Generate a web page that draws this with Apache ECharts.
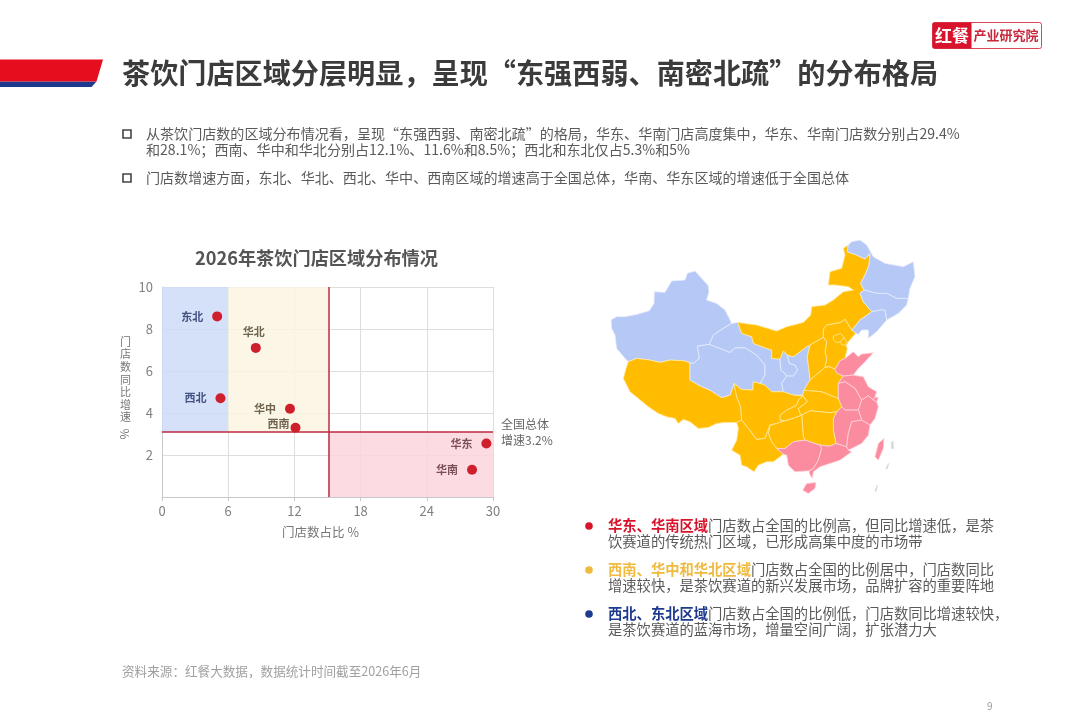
<!DOCTYPE html>
<html><head><meta charset="utf-8">
<script src="https://cdn.jsdelivr.net/npm/echarts@6/dist/echarts.min.js"></script>
<style>html,body{margin:0;padding:0;background:#fff}#c{width:1080px;height:719px}</style>
</head><body><div id="c"></div>
<script>
// ---- chart data ----
const regions = ['东北','华北','西北','华中','西南','华东','华南'];
const storeShare = [5, 8.5, 5.3, 11.6, 12.1, 29.4, 28.1];
const storeGrowth = [8.6, 7.1, 4.7, 4.2, 3.3, 2.55, 1.3];
const shareSplitLow = 6, shareSplitHigh = 15.1, growthSplit = 3.1;
const xMax = 30, yMax = 10;
const eastSouthProvinces = ['山东','江苏','上海','浙江','安徽','江西','福建','广东','广西','海南','台湾'];
const midProvinces = ['西藏','四川','云南','贵州','重庆','湖南','湖北','河南','河北','山西','内蒙古','北京','天津'];
const westNorthProvinces = ['新疆','青海','甘肃','宁夏','陕西','黑龙江','吉林','辽宁'];
const islandMarks = ['岛礁1','岛礁2','岛礁3'];

// ---- texts ----
const pageTitle = '茶饮门店区域分层明显，呈现“东强西弱、南密北疏”的分布格局';
const bodyLines = [
 '从茶饮门店数的区域分布情况看，呈现“东强西弱、南密北疏”的格局，华东、华南门店高度集中，华东、华南门店数分别占29.4%',
 '和28.1%；西南、华中和华北分别占12.1%、11.6%和8.5%；西北和东北仅占5.3%和5%',
 '门店数增速方面，东北、华北、西北、华中、西南区域的增速高于全国总体，华南、华东区域的增速低于全国总体'
];
const notes = [
 ['华东、华南区域','门店数占全国的比例高，但同比增速低，是茶','饮赛道的传统热门区域，已形成高集中度的市场带'],
 ['西南、华中和华北区域','门店数占全国的比例居中，门店数同比','增速较快，是茶饮赛道的新兴发展市场，品牌扩容的重要阵地'],
 ['西北、东北区域','门店数占全国的比例低，门店数同比增速较快，','是茶饮赛道的蓝海市场，增量空间广阔，扩张潜力大']
];

// ---- base-map outlines (schematic province shapes) ----
const outlines = {
 '新疆':[[33,270],[50,260],[75,260],[110,253],[148,242],[162,220],[163,185],[195,187],[215,153],[255,150],[262,130],[285,123],[305,145],[325,167],[327,185],[320,210],[350,220],[375,240],[388,265],[395,280],[370,295],[340,315],[328,343],[292,348],[298,385],[280,400],[270,398],[250,392],[210,390],[180,397],[150,390],[110,385],[85,395],[75,385],[50,355],[45,315],[35,295]],
 '西藏':[[85,395],[110,385],[150,390],[180,397],[210,390],[250,392],[270,398],[270,450],[300,467],[330,480],[365,502],[390,495],[402,460],[410,500],[422,530],[425,570],[410,577],[375,577],[350,580],[325,592],[295,595],[270,575],[250,568],[235,580],[225,565],[200,560],[175,550],[145,530],[115,505],[90,485],[70,445],[78,415]],
 '青海':[[328,343],[360,355],[390,367],[405,353],[435,353],[470,375],[495,405],[495,435],[480,460],[460,455],[458,480],[425,478],[402,460],[390,495],[365,502],[330,480],[300,467],[270,450],[270,398],[280,400],[298,385],[292,348]],
 '甘肃':[[395,280],[413,277],[425,310],[455,320],[460,340],[500,355],[515,360],[515,385],[540,387],[542,420],[555,430],[560,438],[545,460],[550,485],[515,485],[495,465],[480,460],[495,435],[495,405],[470,375],[435,353],[405,353],[390,367],[360,355],[328,343],[340,315],[370,295]],
 '宁夏':[[540,387],[550,362],[562,375],[568,400],[585,405],[593,420],[580,438],[560,438],[555,430],[542,420]],
 '陕西':[[562,375],[580,380],[620,350],[630,345],[622,380],[628,430],[630,450],[612,480],[608,495],[580,495],[550,485],[545,460],[560,438],[580,438],[593,420],[585,405],[568,400]],
 '内蒙古':[[413,277],[470,285],[530,303],[560,290],[610,277],[632,255],[635,230],[675,225],[700,210],[730,185],[760,180],[745,170],[705,165],[685,165],[690,125],[725,115],[735,75],[730,55],[745,45],[742,65],[770,75],[795,87],[810,70],[807,105],[795,135],[782,160],[792,180],[780,190],[790,215],[815,245],[795,260],[780,270],[760,295],[755,300],[735,268],[720,278],[680,285],[670,298],[670,322],[630,345],[620,350],[580,380],[562,375],[550,362],[540,387],[515,385],[515,360],[500,355],[460,340],[455,320],[425,310]],
 '黑龙江':[[745,45],[755,35],[780,30],[800,45],[820,80],[855,100],[910,110],[940,95],[945,140],[930,175],[925,205],[890,205],[860,190],[830,190],[792,180],[782,160],[795,135],[807,105],[810,70],[795,87],[770,75],[742,65]],
 '吉林':[[792,180],[830,190],[860,190],[890,205],[925,205],[920,225],[895,250],[860,270],[855,240],[840,240],[815,245],[790,215],[780,190]],
 '辽宁':[[815,245],[840,240],[855,240],[860,270],[830,305],[805,325],[805,300],[785,300],[775,313],[760,305],[755,300],[760,295],[780,270],[795,260]],
 '河北':[[670,322],[670,298],[680,285],[720,278],[735,268],[755,300],[767,310],[745,335],[738,348],[742,355],[735,385],[720,392],[705,418],[690,410],[675,412],[680,385],[675,365],[680,335]],
 '北京':[[700,318],[722,310],[732,322],[722,335],[710,338],[700,330]],
 '天津':[[722,335],[732,322],[740,335],[735,345],[725,345]],
 '山西':[[630,345],[670,322],[680,335],[675,365],[680,385],[675,412],[630,450],[628,430],[622,380]],
 '河南':[[630,450],[675,412],[690,410],[705,418],[712,430],[730,438],[715,460],[715,505],[690,495],[665,485],[630,482],[612,480]],
 '山东':[[705,418],[720,392],[735,385],[760,365],[775,380],[785,372],[820,368],[795,395],[775,415],[760,435],[730,438],[712,430]],
 '江苏':[[730,438],[760,435],[790,440],[805,470],[830,485],[825,500],[820,510],[805,497],[785,510],[765,475],[735,455],[715,460]],
 '上海':[[825,500],[835,503],[830,515],[820,510]],
 '安徽':[[715,460],[735,455],[765,475],[785,510],[775,540],[735,540],[725,530],[715,505]],
 '浙江':[[785,510],[805,497],[820,510],[830,515],[835,530],[825,565],[810,585],[785,570],[775,540]],
 '江西':[[710,545],[725,530],[735,540],[775,540],[785,570],[755,575],[745,610],[740,650],[708,640],[700,600],[700,565]],
 '福建':[[755,575],[785,570],[810,585],[805,615],[785,640],[745,660],[740,650],[745,610]],
 '湖北':[[608,495],[612,480],[630,482],[665,485],[690,495],[715,505],[725,530],[710,545],[690,548],[660,545],[630,542],[605,555],[600,550],[595,535],[622,515]],
 '湖南':[[605,555],[630,542],[660,545],[690,548],[710,545],[700,565],[700,600],[708,640],[690,648],[660,645],[615,630],[610,620]],
 '重庆':[[608,497],[622,515],[595,535],[600,550],[605,555],[580,565],[555,572],[540,570],[540,555],[560,540],[590,525],[595,510]],
 '四川':[[402,460],[425,478],[458,480],[460,455],[480,460],[495,465],[515,485],[550,485],[580,495],[608,497],[595,510],[590,525],[560,540],[540,555],[540,570],[555,572],[530,580],[510,585],[495,625],[470,628],[445,595],[425,570],[422,530],[410,500]],
 '贵州':[[505,610],[510,585],[530,580],[555,572],[580,565],[605,555],[610,620],[615,630],[580,635],[555,655],[530,655],[515,635]],
 '云南':[[410,577],[425,570],[445,595],[470,628],[495,625],[510,585],[505,610],[515,635],[530,655],[550,672],[520,695],[500,695],[475,705],[462,725],[440,710],[425,705],[420,675],[395,660],[410,630],[415,595]],
 '广西':[[530,655],[555,655],[580,635],[615,630],[660,645],[665,655],[655,690],[640,715],[628,722],[585,725],[565,705],[560,675],[550,672]],
 '广东':[[660,645],[690,648],[708,640],[740,650],[745,660],[755,665],[720,690],[660,710],[640,725],[637,745],[628,730],[628,722],[640,715],[655,690],[665,655]],
 '海南':[[608,780],[620,760],[648,757],[645,775],[625,790]],
 '台湾':[[825,680],[835,640],[852,625],[850,655],[835,690]],
 '岛礁1':[[875,635],[879,635],[880,655],[875,655]],
 '岛礁2':[[858,715],[866,700],[869,702],[861,717]],
 '岛礁3':[[825,782],[832,765],[835,767],[828,784]]
};
const geoJson = {type:'FeatureCollection',features:Object.keys(outlines).map(n=>({
  type:'Feature',properties:{name:n},
  geometry:{type:'Polygon',coordinates:[outlines[n].concat([outlines[n][0]])]}
}))};
echarts.registerMap('cn', geoJson);

const FONT = '"Noto Sans CJK SC","Noto Sans",sans-serif';
const mapColors = {pink:'#FB8CA0',gold:'#FFBC00',blue:'#B5C8F6',isle:'#D6D6D6'};
const mapData = [].concat(
  eastSouthProvinces.map(n=>({name:n,itemStyle:{areaColor:mapColors.pink,borderColor:'#FFD4DC'}})),
  midProvinces.map(n=>({name:n,itemStyle:{areaColor:mapColors.gold,borderColor:'#FFE9A0'}})),
  westNorthProvinces.map(n=>({name:n,itemStyle:{areaColor:mapColors.blue,borderColor:'#E6ECFC'}})),
  islandMarks.map(n=>({name:n,itemStyle:{areaColor:mapColors.isle,borderColor:mapColors.isle}}))
);

// label placement per region (layout, kept apart from the values)
const labelLayout = {
 '东北':{position:'left',distance:9,color:'#44527F'},
 '华北':{position:'top',distance:6,offset:[-2,0],color:'#6E6450'},
 '西北':{position:'left',distance:9,color:'#44527F'},
 '华中':{position:'left',distance:9,color:'#6E6450'},
 '西南':{position:'left',distance:1,offset:[0,-4],color:'#6E6450'},
 '华东':{position:'left',distance:9,color:'#7A5056'},
 '华南':{position:'left',distance:9,color:'#7A5056'}
};
const points = regions.map((r,i)=>({
  name:r, value:[storeShare[i],storeGrowth[i]],
  label:Object.assign({show:true,formatter:r,fontSize:11,fontWeight:'bold',fontFamily:FONT},labelLayout[r])
}));

const textNode = (text,x,y,o)=>({type:'text',silent:true,z:20,style:Object.assign({text,x,y,fontFamily:FONT,verticalAlign:'middle'},o)});
const graphics = [
  {type:'polygon',silent:true,shape:{points:[[0,81.5],[96.5,81.5],[91.5,87],[0,87]]},style:{fill:'#1E3A8F'}},
  {type:'polygon',silent:true,shape:{points:[[0,59.5],[103,59.5],[96.5,81.5],[0,81.5]]},style:{fill:'#E60D1F'}},
  textNode(pageTitle,122,73,{fontSize:28.15,fontWeight:'bold',fill:'#3B3B3B'}),
  {type:'rect',silent:true,shape:{x:932.5,y:22.5,width:109,height:26,r:2},style:{fill:'#fff',stroke:'#D9455A',lineWidth:1}},
  {type:'rect',silent:true,shape:{x:932.5,y:22.5,width:39,height:26,r:[2,0,0,2]},style:{fill:'#D8132C'}},
  textNode('红餐',952,35.5,{fontSize:17,fontWeight:'bold',fill:'#fff',align:'center'}),
  textNode('产业研究院',1006,35.5,{fontSize:13,fontWeight:'bold',fill:'#C8283C',align:'center'}),
  {type:'rect',silent:true,shape:{x:123,y:130,width:8,height:8},style:{fill:'#fff',stroke:'#444',lineWidth:1.6}},
  {type:'rect',silent:true,shape:{x:123,y:174,width:8,height:8},style:{fill:'#fff',stroke:'#444',lineWidth:1.6}},
  textNode(bodyLines[0],146,134,{fontSize:14.07,fill:'#5A5A5A'}),
  textNode(bodyLines[1],146,150,{fontSize:14.07,fill:'#5A5A5A'}),
  textNode(bodyLines[2],146,178,{fontSize:14.07,fill:'#5A5A5A'}),
  textNode('2026年茶饮门店区域分布情况',316.5,258,{fontSize:18.2,fontWeight:'bold',fill:'#555',align:'center'}),
  textNode('全国总体',501,424,{fontSize:12,fill:'#666'}),
  textNode('增速3.2%',501,440,{fontSize:12,fill:'#666'}),
  {type:'text',silent:true,z:20,x:125,y:434,rotation:-Math.PI/2,style:{text:'%',fontSize:12,fontFamily:FONT,fill:'#777',align:'center',verticalAlign:'middle'}},
  textNode('资料来源：红餐大数据，数据统计时间截至2026年6月',122,671,{fontSize:12.6,fill:'#A0A0A0'}),
  textNode('9',987,706,{fontSize:10,fill:'#999'})
];
const noteColors = ['#D7142B','#EFBA3E','#1E3A8F'];
const noteRows = [526,570,614];
notes.forEach((n,i)=>{
  graphics.push({type:'circle',silent:true,shape:{cx:589,cy:noteRows[i],r:3.8},style:{fill:noteColors[i]}});
  graphics.push(textNode('{h|'+n[0]+'}{t|'+n[1]+'}',608,noteRows[i],{rich:{
     h:{fontSize:14.3,fontWeight:'bold',fill:noteColors[i],fontFamily:FONT},
     t:{fontSize:14.3,fill:'#5A5A5A',fontFamily:FONT}}}));
  graphics.push(textNode(n[2],608,noteRows[i]+16,{fontSize:14.3,fill:'#5A5A5A'}));
});

const chart = echarts.init(document.getElementById('c'),null,{renderer:'canvas'});
chart.setOption({
  animation:false,
  backgroundColor:'#fff',
  textStyle:{fontFamily:FONT},
  grid:{left:162,right:587,top:287,bottom:222,containLabel:false},
  xAxis:{type:'value',min:0,max:xMax,interval:6,name:'门店数占比 %',nameLocation:'middle',nameGap:29,
    nameTextStyle:{fontSize:12.5,color:'#777',padding:[0,14,0,0]},
    axisLine:{show:true,lineStyle:{color:'#C8C8C8'}},axisTick:{show:true,length:4,lineStyle:{color:'#C8C8C8'}},
    axisLabel:{fontSize:13,color:'#808080',margin:8},splitLine:{show:true,lineStyle:{color:'#DEDEDE'}}},
  yAxis:{type:'value',min:0,max:yMax,interval:2,name:'门\n店\n数\n同\n比\n增\n速\n \n ',nameLocation:'middle',nameGap:31,nameRotate:0,
    nameTextStyle:{fontSize:11,color:'#777',lineHeight:12.6},
    axisLine:{show:true,lineStyle:{color:'#C8C8C8'}},axisTick:{show:false},
    axisLabel:{fontSize:13,color:'#808080',margin:9,formatter:v=>v===0?'':String(v)},splitLine:{show:true,lineStyle:{color:'#DEDEDE'}}},
  graphic:graphics,
  series:[
    {type:'map',map:'cn',
      projection:{project:p=>p,unproject:p=>p},
      left:611,top:240,width:304,height:253.5,aspectScale:1,
      silent:true,selectedMode:false,label:{show:false},
      itemStyle:{borderWidth:0.8,areaColor:'#ddd'},
      data:mapData},
    {type:'scatter',symbolSize:10,itemStyle:{color:'#D01F2C',opacity:1},z:5,silent:true,
      data:points,
      markArea:{silent:true,itemStyle:{opacity:0.85},z:1,data:[
        [{xAxis:0,yAxis:growthSplit,itemStyle:{color:'#CEDBF8'}},{xAxis:shareSplitLow,yAxis:yMax}],
        [{xAxis:shareSplitLow,yAxis:growthSplit,itemStyle:{color:'#FCF4E2'}},{xAxis:shareSplitHigh,yAxis:yMax}],
        [{xAxis:shareSplitHigh,yAxis:0,itemStyle:{color:'#FDD5DE'}},{xAxis:xMax,yAxis:growthSplit}]
      ]},
      markLine:{silent:true,symbol:'none',label:{show:false},lineStyle:{color:'#BC2A40',width:1.5,type:'solid'},z:2,data:[
        {xAxis:shareSplitHigh},{yAxis:growthSplit}
      ]}
    }
  ]
});
</script></body></html>
